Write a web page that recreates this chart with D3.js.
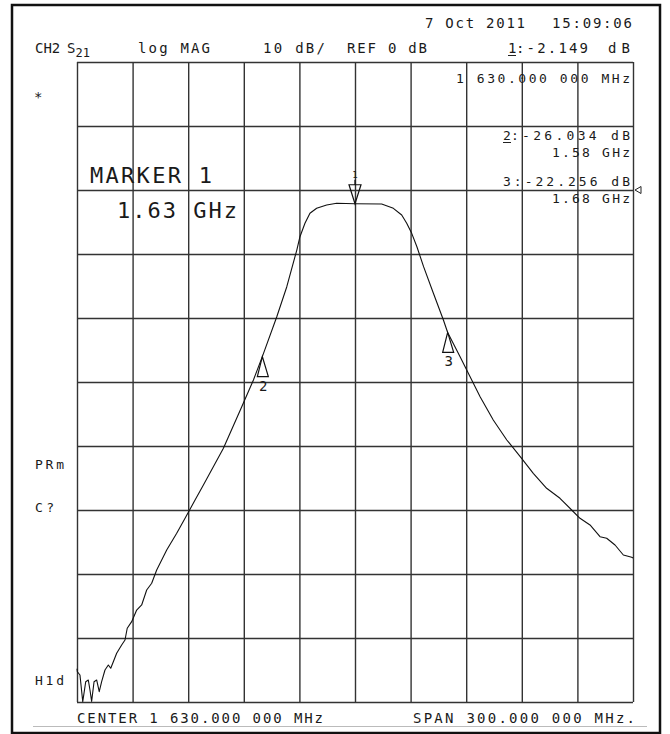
<!DOCTYPE html>
<html>
<head>
<meta charset="utf-8">
<script src="https://cdn.jsdelivr.net/npm/d3@7"></script>
<style>
  body { margin: 0; background: #fff; }
  svg text { font-family: "DejaVu Sans Mono", "Liberation Mono", monospace; fill: #1a1a1a; }
</style>
</head>
<body>
<div id="chart"></div>
<script>
// trace S21, frequency in MHz, magnitude in dB
var freq = [1480, 1480.2, 1481.6, 1483.1, 1484.7, 1486.1, 1487.0, 1487.9, 1489.2, 1490.6, 1492.0, 1493.3,
  1495.1, 1496.9, 1498.2, 1499.6, 1501.4, 1504.1, 1505.9, 1507.1, 1509.5, 1512.2, 1514.9, 1517.6,
  1520.3, 1523.0, 1528.4, 1533.8, 1538.3, 1543.7, 1548.2, 1559.0, 1568.9, 1575.2, 1580.0, 1587.8,
  1593.2, 1598.6, 1600.3, 1603.0, 1605.7, 1609.3, 1614.7, 1620.1, 1630.0, 1644.4, 1650.7, 1655.2,
  1657.9, 1660.6, 1663.4, 1667.0, 1672.3, 1677.7, 1680.0, 1686.7, 1692.1, 1697.5, 1704.6, 1711.9,
  1719.9, 1726.2, 1733.4, 1740.6, 1746.9, 1751.4, 1756.8, 1762.2, 1765.8, 1770.3, 1774.8, 1779.3, 1780];
var mag = [-74.8, -75.27, -75.78, -79.95, -76.83, -76.56, -78.13, -79.9, -76.83, -76.56, -78.39, -76.83,
  -75.0, -74.22, -74.73, -73.70, -72.39, -71.09, -70.31, -68.48, -67.45, -65.63, -64.84, -62.5,
  -61.45, -59.38, -56.25, -53.64, -51.30, -48.44, -46.1, -40.36, -33.86, -29.69, -26.03, -19.80,
  -15.11, -9.38, -7.30, -5.20, -3.64, -2.86, -2.34, -2.08, -2.149, -2.19, -2.86, -3.91,
  -5.20, -6.77, -8.86, -11.98, -16.14, -20.31, -22.26, -26.05, -29.17, -32.30, -35.94, -39.06,
  -41.92, -44.27, -46.61, -48.17, -50.0, -51.30, -52.34, -54.17, -54.42, -55.47, -57.03, -57.39, -57.5];

// markers
var markerIds = [1, 2, 3];
var markerFreq = [1630, 1580, 1680];
var markerMag = [-2.149, -26.034, -22.256];

// axis setup
var startFreq = 1480, stopFreq = 1780;
var topDb = 20, bottomDb = -80, refDb = 0;
var xTicks = d3.range(1480, 1781, 30);
var yTicks = d3.range(20, -81, -10);

var W = 670, H = 734;
var gx0 = 77, gx1 = 633, gy0 = 62, gy1 = 702;

var svg = d3.select("#chart").append("svg")
  .attr("width", W).attr("height", H);

svg.append("rect").attr("width", W).attr("height", H).attr("fill", "#fff");

// frame
svg.append("rect")
  .attr("x", 12).attr("y", 5).attr("width", 648).attr("height", 728)
  .attr("fill", "none").attr("stroke", "#111").attr("stroke-width", 2.5);

var x = d3.scaleLinear().domain([startFreq, stopFreq]).range([gx0, gx1]);
var y = d3.scaleLinear().domain([topDb, bottomDb]).range([gy0, gy1]);

// grid lines from the axes
svg.append("g")
  .attr("transform", "translate(0," + gy1 + ")")
  .call(d3.axisBottom(x).tickValues(xTicks).tickSize(-(gy1 - gy0)).tickFormat(""));
svg.append("g")
  .attr("transform", "translate(" + gx0 + ",0)")
  .call(d3.axisLeft(y).tickValues(yTicks).tickSize(-(gx1 - gx0)).tickFormat(""));
svg.selectAll(".domain").remove();
svg.selectAll(".tick line").attr("stroke", "#333").attr("stroke-width", 1.4);

// trace
var pts = freq.map(function(f, i) { return {f: f, db: mag[i]}; });
svg.append("path")
  .datum(pts)
  .attr("fill", "none")
  .attr("stroke", "#111")
  .attr("stroke-width", 1.1)
  .attr("stroke-linejoin", "round")
  .attr("d", d3.line()
    .x(function(d) { return x(d.f); })
    .y(function(d) { return y(Math.max(d.db, bottomDb)); }));

// reference level pointer on the right edge
var ry = y(refDb);
svg.append("path")
  .attr("d", "M" + (gx1 + 2) + "," + ry + " l6,-3.5 l0,7 z")
  .attr("fill", "none").attr("stroke", "#222").attr("stroke-width", 1);

// marker symbols
markerIds.forEach(function(id, i) {
  var mx = x(markerFreq[i]), my = y(markerMag[i]);
  if (i == 0) {
    svg.append("path")
      .attr("d", "M" + mx + "," + my + " L" + (mx - 6) + "," + (my - 19) + " L" + (mx + 6) + "," + (my - 19) + " Z" +
        " M" + mx + "," + (my - 19) + " L" + mx + "," + (my - 24))
      .attr("fill", "none").attr("stroke", "#111").attr("stroke-width", 1.2);
    svg.append("text").attr("x", mx).attr("y", my - 26)
      .attr("text-anchor", "middle").style("font-size", "9px").text(id);
  } else {
    svg.append("path")
      .attr("d", "M" + mx + "," + my + " L" + (mx - 5) + "," + (my + 20) + " L" + (mx + 6) + "," + (my + 20) + " Z")
      .attr("fill", "none").attr("stroke", "#111").attr("stroke-width", 1.2);
    svg.append("text").attr("x", mx + 1).attr("y", my + 34)
      .attr("text-anchor", "middle").style("font-size", "14px").text(id);
  }
});

// texts
function txt(s, tx, ty, size, len, anchor) {
  var t = svg.append("text").attr("x", tx).attr("y", ty)
    .style("font-size", size + "px")
    .attr("text-anchor", anchor || "start")
    .text(s);
  if (len) t.attr("textLength", len).attr("lengthAdjust", "spacing");
  return t;
}

// header
txt("CH2", 35, 53, 14);
var s21 = svg.append("text").attr("x", 67).attr("y", 53).style("font-size", "14px");
s21.append("tspan").text("S");
s21.append("tspan").attr("dy", 4).style("font-size", "12px").text("21");
txt("log MAG", 138, 53, 14, 72);
txt("10 dB/", 263, 53, 14, 62);
txt("REF 0 dB", 347, 53, 14, 80);
txt("7 Oct 2011", 425, 28, 14, 100);
txt("15:09:06", 632, 28, 14, 80, "end");
txt("1", 508, 53, 14);
svg.append("line").attr("x1", 508).attr("x2", 516).attr("y1", 55.5).attr("y2", 55.5)
  .attr("stroke", "#222").attr("stroke-width", 1);
txt(":-2.149", 516, 53, 14, 72);
txt("dB", 630, 53, 14, 22, "end");

// marker readouts
txt("1 630.000 000 MHz", 630, 83, 13, 174, "end");
txt("2", 503, 140, 13);
svg.append("line").attr("x1", 503).attr("x2", 511).attr("y1", 142.5).attr("y2", 142.5)
  .attr("stroke", "#222").attr("stroke-width", 1);
txt(":-26.034 dB", 511, 140, 13, 119);
txt("1.58 GHz", 630, 157, 13, 78, "end");
txt("3:-22.256 dB", 503, 186, 13, 127);
txt("1.68 GHz", 630, 203, 13, 78, "end");

// big marker label
txt("MARKER 1", 90, 183, 22, 122);
txt("1.63 GHz", 117, 218, 22, 120);

// left annotations
txt("*", 34, 102, 14);
txt("PRm", 35, 469, 13, 29);
txt("C?", 35, 512, 13, 19);
txt("H1d", 35, 685, 13, 29);

// footer
txt("CENTER 1 630.000 000 MHz", 77, 723, 14, 246);
txt("SPAN  300.000 000 MHz.", 413, 723, 14, 222);
svg.append("line").attr("x1", 33).attr("x2", 647).attr("y1", 726.5).attr("y2", 726.5)
  .attr("stroke", "#bbb").attr("stroke-width", 1);
</script>
</body>
</html>
